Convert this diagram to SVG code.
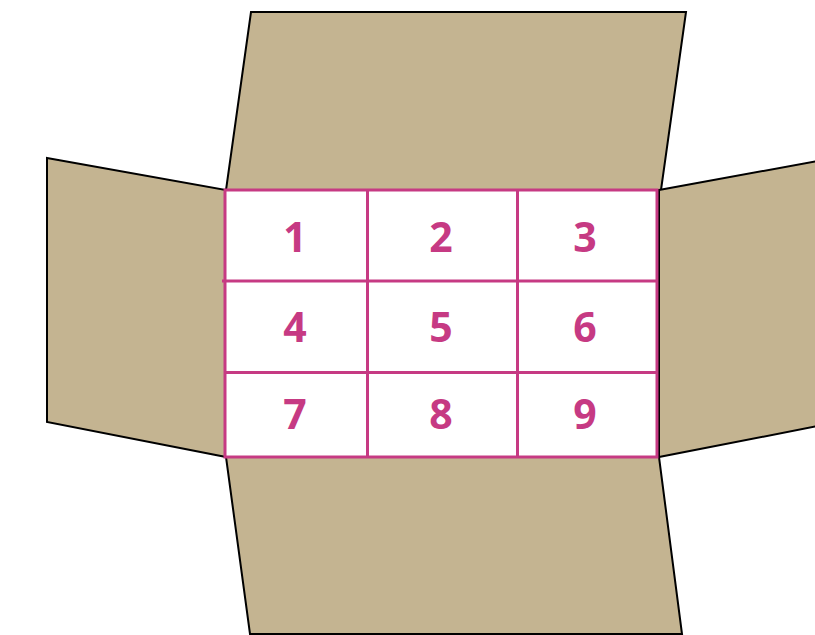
<svg xmlns="http://www.w3.org/2000/svg" width="815" height="635" viewBox="0 0 815 635">
<style>
.flap{fill:#C4B491;stroke:#000;stroke-width:2;stroke-linejoin:miter}
.grid{fill:#fff;stroke:#C63A83;stroke-width:3}
.ln{stroke:#C63A83;stroke-width:3;fill:none}
.num{font-family:"Open Sans","Liberation Sans",sans-serif;font-weight:bold;font-size:41px;fill:#C63A83;text-anchor:middle}
</style>
<rect width="815" height="635" fill="#fff"/>
<g id="flap-top"><polygon class="flap" points="251,12 686,12 661,190 226,190"/></g>
<g id="flap-left"><polygon class="flap" points="47,158 226,190 226,457 47,422"/></g>
<g id="flap-right"><polygon class="flap" points="659,190 818,161 818,426 659,457"/></g>
<g id="flap-bottom"><polygon class="flap" points="226,457 659,457 682,634 250,634"/></g>
<g id="grid">
<rect class="grid" x="225" y="190" width="432" height="267"/>
<g class="connectors">
<line class="ln" x1="367.5" y1="190" x2="367.5" y2="457"/>
<line class="ln" x1="517.5" y1="190" x2="517.5" y2="457"/>
<line class="ln" x1="222" y1="281" x2="657" y2="281"/>
<line class="ln" x1="225" y1="372.5" x2="657" y2="372.5"/>
</g>
</g>
<g id="cell-1"><text class="num" x="295" y="252">1</text></g>
<g id="cell-2"><text class="num" x="441" y="252">2</text></g>
<g id="cell-3"><text class="num" x="585" y="252">3</text></g>
<g id="cell-4"><text class="num" x="295" y="342">4</text></g>
<g id="cell-5"><text class="num" x="441" y="342">5</text></g>
<g id="cell-6"><text class="num" x="585" y="342">6</text></g>
<g id="cell-7"><text class="num" x="295" y="429">7</text></g>
<g id="cell-8"><text class="num" x="441" y="429">8</text></g>
<g id="cell-9"><text class="num" x="585" y="429">9</text></g>
</svg>
